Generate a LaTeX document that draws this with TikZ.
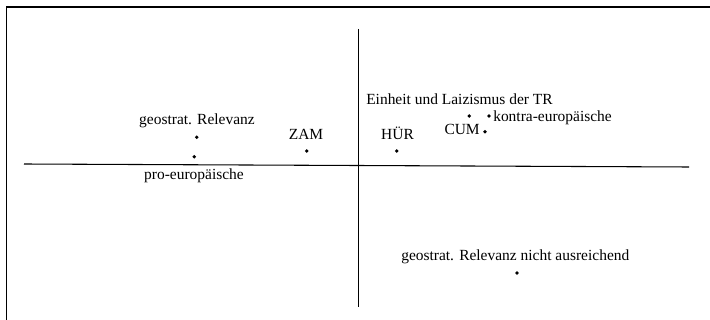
\documentclass[tikz,border=0pt]{standalone}
\usepackage{fontspec}
\setmainfont{Liberation Serif}

\begin{document}
\begin{tikzpicture}[x=0.75pt,y=-0.75pt,
	lbl/.style={inner sep=0pt,anchor=base,font=\fontsize{11.6}{14}\selectfont},
	punkt/.style={circle,fill=black,inner sep=0pt,minimum size=2.8pt},
	achse/.style={line width=0.8pt}]
				\clip (0,0) rectangle (710,320);
				\draw[line width=1.3pt] (6.5,330) |- (720,7);

				\coordinate (links) at (24,164);
				\coordinate (rechts) at (689,167);
				\coordinate (oben) at (358.3,29);
				\coordinate (unten) at (358.3,307);
				\draw[achse] (links) -- (rechts);
				\draw[achse] (oben) -- (unten);

				\draw (197,125) node[lbl] (geo) {geostrat. Relevanz};
				\draw (194,180) node[lbl] (pro) {pro-europäische};
				\draw (306,140) node[lbl] (ZAM) {ZAM};
				\draw (397.5,140) node[lbl] (HUR) {HÜR};
				\draw (480,135) node[lbl,anchor=base east] (CUM) {CUM};
				\draw (366,105) node[lbl,anchor=base west] (einheit) {Einheit und Laizismus der TR};
				\draw (493,122) node[lbl,anchor=base west] (kontra) {kontra-europäische};
				\draw (401,260.5) node[lbl,anchor=base west] (nicht) {geostrat. Relevanz nicht ausreichend};

				\draw (196.7,137.3) node[punkt] (geoP) {};
				\draw (194.3,156.7) node[punkt] (proP) {};
				\draw (306.7,151) node[punkt] (ZAMP) {};
				\draw (396.7,151) node[punkt] (HURP) {};
				\draw (485,131.7) node[punkt] (CUMP) {};
				\draw (469.3,116) node[punkt] (einheitP) {};
				\draw (489,116) node[punkt] (kontraP) {};
				\draw (517,273) node[punkt] (nichtP) {};
			\end{tikzpicture}
\end{document}
